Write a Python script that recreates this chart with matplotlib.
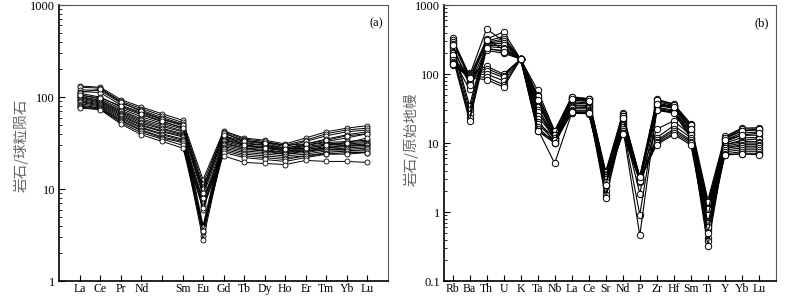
import numpy as np
import matplotlib
matplotlib.use('Agg')
import matplotlib.pyplot as plt
from matplotlib.ticker import LogLocator, FixedLocator, NullFormatter

plt.rcParams['font.family'] = ['Liberation Serif', 'Noto Sans CJK SC']

# (a) 球粒陨石标准化稀土配分 (Pm 位置无标签)
ree_labels = ['La', 'Ce', 'Pr', 'Nd', '', 'Sm', 'Eu', 'Gd', 'Tb', 'Dy', 'Ho', 'Er', 'Tm', 'Yb', 'Lu']
ree_samples = [
    [132, 128, 94, 78, 66, 56, 12.7, 43, 36, 34, 31, 36, 42, 46, 49],
    [128, 125, 90, 75, 63, 53, 11.5, 42, 35, 33, 30, 34, 40, 44, 46],
    [120, 118, 86, 72, 60, 51, 10.5, 40, 34, 32, 29, 33, 38, 42, 44],
    [115, 112, 82, 68, 57, 49, 4.0, 38, 33, 31, 28, 31, 35, 39, 42],
    [110, 100, 78, 64, 54, 47, 9.5, 37, 32, 30, 27, 30, 33, 36, 40],
    [106, 95, 75, 61, 52, 45, 3.7, 36, 31, 30, 28, 30, 32, 33, 34],
    [102, 92, 72, 58, 50, 43, 8.5, 35, 30, 29, 27, 29, 31, 32, 33],
    [100, 90, 70, 56, 48, 42, 3.4, 34, 30, 28, 26, 28, 30, 31, 32],
    [98, 88, 68, 54, 46, 40, 7.5, 33, 29, 28, 26, 27, 29, 30, 31],
    [95, 86, 66, 52, 45, 39, 3.1, 32, 28, 27, 25, 27, 28, 30, 30],
    [92, 84, 64, 50, 43, 38, 7.0, 31, 28, 26, 25, 26, 28, 29, 30],
    [90, 82, 62, 49, 42, 37, 6.5, 30, 27, 26, 24, 26, 27, 28, 29],
    [88, 80, 60, 47, 40, 35, 2.8, 29, 26, 25, 24, 25, 27, 27, 28],
    [85, 78, 58, 46, 39, 34, 6.0, 28, 25, 24, 23, 24, 26, 26, 27],
    [82, 76, 56, 44, 37, 33, 3.9, 27, 24, 23, 22, 23, 25, 26, 26],
    [80, 75, 55, 43, 36, 32, 6.2, 26, 23, 22, 21, 23, 24, 25, 25],
    [78, 74, 53, 41, 35, 30, 3.5, 25, 22, 21, 20, 22, 24, 24, 25],
    [76, 73, 51, 39, 33, 28, 8.0, 23, 19.5, 19, 18.5, 20.5, 20, 20, 19.5],
    [112, 122, 88, 70, 58, 50, 10.0, 41, 33, 32, 30, 31, 34, 38, 40],
    [105, 98, 80, 66, 55, 46, 9.0, 39, 30, 28, 27, 28, 30, 32, 36],
]

# (b) 原始地幔标准化微量元素蛛网图
spider_labels = ['Rb', 'Ba', 'Th', 'U', 'K', 'Ta', 'Nb', 'La', 'Ce', 'Sr',
                 'Nd', 'P', 'Zr', 'Hf', 'Sm', 'Ti', 'Y', 'Yb', 'Lu']
spider_samples = [
    [330, 95, 450, 300, 165, 58, 15, 47, 44, 3.9, 27, 3.3, 43, 37, 19, 1.5, 12.5, 16.5, 16.7],
    [310, 90, 320, 408, 165, 50, 14, 45, 43, 3.6, 26, 3.0, 40, 35, 18, 1.3, 12, 16, 16],
    [290, 85, 300, 350, 165, 45, 13, 44, 42, 3.3, 25, 2.8, 38, 34, 17, 1.2, 11.5, 15, 15.5],
    [270, 35, 290, 320, 165, 40, 12, 42, 40, 3.0, 24, 3.2, 36, 33, 16, 1.0, 11, 14, 14.5],
    [250, 30, 280, 300, 165, 36, 14, 40, 38, 2.8, 22, 2.9, 35, 32, 15, 0.65, 10.5, 13, 13],
    [230, 80, 270, 280, 165, 33, 12, 38, 37, 2.5, 21, 3.1, 33, 30, 14, 0.6, 10, 12, 12],
    [210, 26, 260, 260, 165, 30, 11, 36, 35, 2.4, 20, 2.7, 32, 29, 14, 0.55, 9.5, 11, 11.5],
    [200, 23, 250, 240, 165, 28, 13, 35, 34, 2.0, 19, 1.85, 31, 28, 13, 0.42, 9.5, 10.5, 10.5],
    [180, 21, 230, 220, 165, 25, 12, 33, 33, 1.8, 18, 0.92, 30, 28, 12, 0.38, 9, 10, 10],
    [170, 60, 220, 200, 165, 22, 10, 32, 32, 1.6, 17, 0.46, 30, 27, 12, 0.32, 8.5, 9.5, 9.5],
    [190, 75, 310, 230, 165, 48, 15, 46, 44, 3.4, 25, 3.2, 42, 36, 18, 1.0, 12, 15, 16],
    [260, 70, 240, 210, 165, 42, 13, 43, 41, 3.1, 23, 3.0, 37, 33, 16, 0.8, 11, 13, 14],
    [160, 105, 130, 100, 165, 20, 12, 30, 30, 3.8, 16, 3.3, 16, 21, 13, 1.4, 8.5, 9, 9],
    [150, 100, 120, 95, 165, 19, 11, 29, 29, 3.5, 15, 3.1, 12, 18, 12, 1.1, 8, 8.5, 8.5],
    [145, 98, 110, 90, 165, 17, 10, 28, 28, 3.2, 15, 3.0, 11, 16, 11, 0.9, 7.5, 8, 8],
    [140, 95, 100, 80, 165, 16, 5.1, 27, 27, 3.0, 14, 2.9, 10.5, 15, 10.5, 0.7, 7, 7.5, 7.5],
    [136, 92, 90, 70, 165, 15, 11, 27, 26.7, 2.7, 14, 2.8, 10, 14, 10, 0.6, 6.8, 7, 7],
    [138, 88, 83, 65, 165, 15, 10, 28, 27, 2.5, 13.7, 3.2, 9.5, 13.3, 9.4, 0.5, 6.7, 7, 6.8],
]


def style_axes(ax, labels, ylim, yticks, xlim):
    ax.set_yscale('log')
    ax.set_ylim(*ylim)
    ax.set_xlim(*xlim)
    x = np.arange(1, len(labels) + 1)
    ax.xaxis.set_major_locator(FixedLocator(x))
    ax.set_xticklabels(labels, fontsize=8.5)
    ax.yaxis.set_major_locator(FixedLocator(yticks))
    ax.set_yticklabels([('%g' % t) for t in yticks], fontsize=9)
    ax.yaxis.set_minor_locator(LogLocator(base=10, subs=np.arange(2, 10)))
    ax.yaxis.set_minor_formatter(NullFormatter())
    ax.tick_params(axis='both', which='major', direction='in', length=4, width=0.8, pad=3)
    ax.tick_params(axis='y', which='minor', direction='in', length=2.2, width=0.6)
    ax.tick_params(axis='x', pad=1.5)
    for s in ['left', 'bottom']:
        ax.spines[s].set_linewidth(1.2)
        ax.spines[s].set_color('black')
    for s in ['top', 'right']:
        ax.spines[s].set_linewidth(0.8)
        ax.spines[s].set_color('#555555')


fig = plt.figure(figsize=(8.0, 2.96), dpi=100)

ax1 = fig.add_axes([0.074, 0.05, 0.411, 0.933])
xr = np.arange(1, len(ree_labels) + 1)
for s in ree_samples:
    ax1.plot(xr, s, '-o', color='black', lw=0.7, ms=3.6, mfc='white', mec='black', mew=0.6)
style_axes(ax1, ree_labels, (1, 1000), [1, 10, 100, 1000], (0, 16))
ax1.text(0.985, 0.955, '(a)', transform=ax1.transAxes, ha='right', va='top', fontsize=9)

ax2 = fig.add_axes([0.555, 0.05, 0.415, 0.933])
xs = np.arange(1, len(spider_labels) + 1)
for s in spider_samples:
    ax2.plot(xs, s, '-o', color='black', lw=0.8, ms=4.6, mfc='white', mec='black', mew=0.7)
style_axes(ax2, spider_labels, (0.1, 1000), [0.1, 1, 10, 100, 1000], (0.5, 20))
ax2.text(0.98, 0.955, '(b)', transform=ax2.transAxes, ha='right', va='top', fontsize=9)

fig.text(0.027, 0.51, '岩石/球粒陨石', rotation=90, ha='center', va='center',
         fontsize=10.5, color='#666666', family=['Noto Sans CJK SC', 'DejaVu Sans'])
fig.text(0.514, 0.53, '岩石/原始地幔', rotation=90, ha='center', va='center',
         fontsize=10.5, color='#666666', family=['Noto Sans CJK SC', 'DejaVu Sans'])

fig.savefig('out.png', dpi=100)
